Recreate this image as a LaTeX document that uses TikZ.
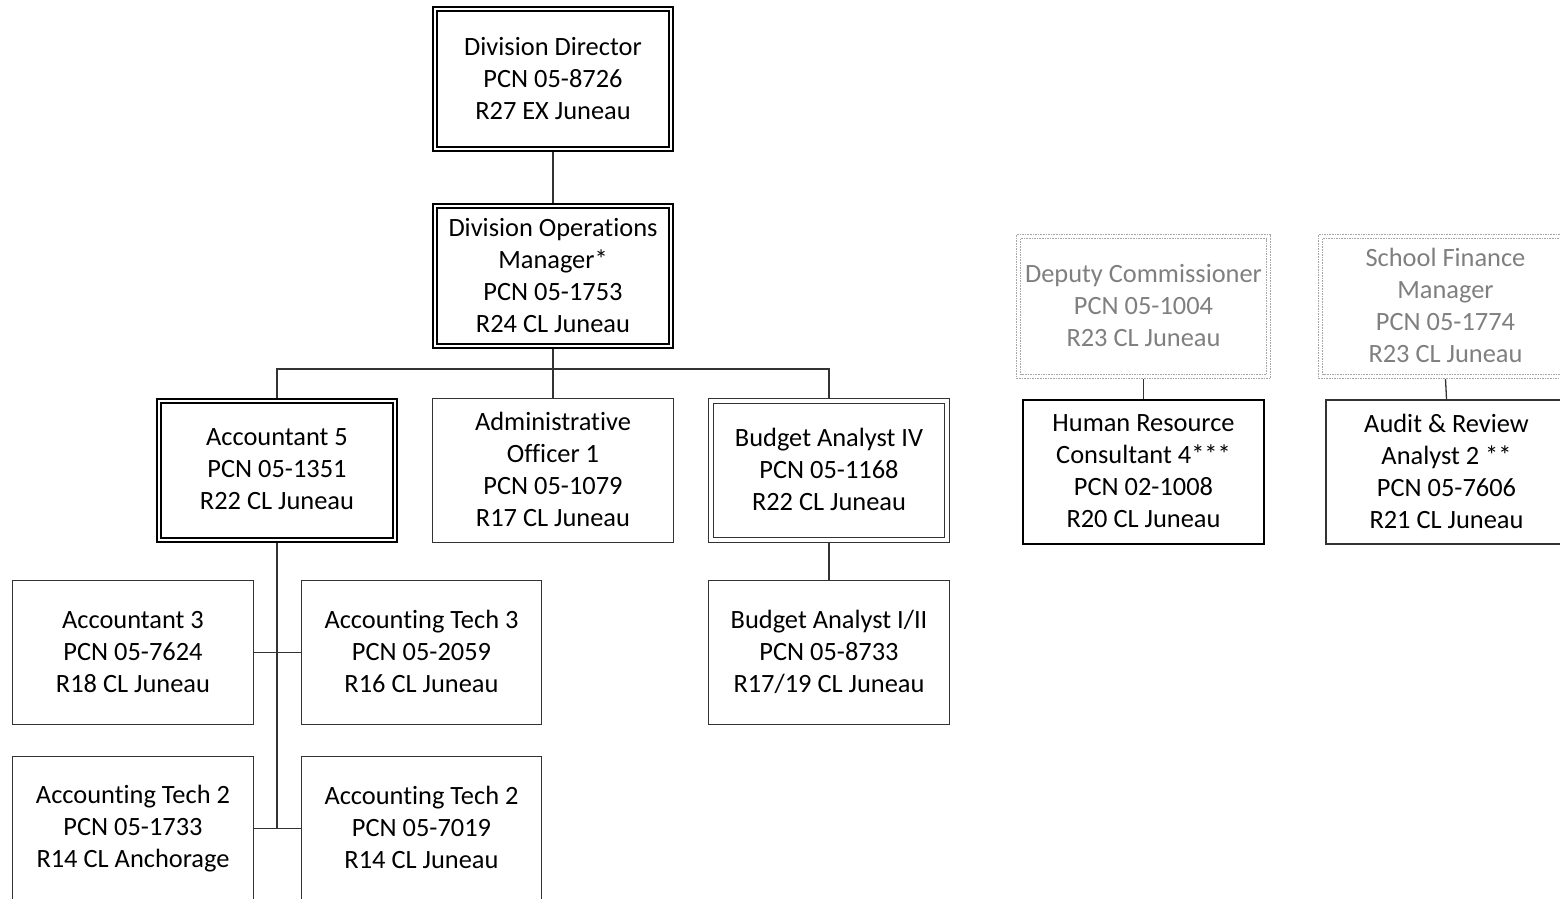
\documentclass[tikz,border=0pt]{standalone}
\usepackage{fontspec}
\setmainfont[Ligatures={NoCommon}]{Carlito}
\definecolor{linec}{HTML}{333333}
\definecolor{dimtext}{HTML}{7F7F7F}
\definecolor{dimline}{HTML}{A6A6A6}
\newcommand{\lnstrut}{\rule[-2pt]{0pt}{32pt}}
\tikzset{
  txt/.style={font=\fontsize{26.4}{32}\selectfont, align=center, inner sep=0pt, text=black,
    execute at begin node=\lnstrut, execute at end node=\lnstrut},
  plainbox/.style={txt, draw=linec, line width=1.3pt},
  heavybox/.style={txt, draw=black, line width=2.4pt},
  midbox/.style={txt, draw=linec, line width=1.8pt},
  dblthick/.style={txt, draw=black, line width=2.2pt, double=white, double distance=2pt, outer sep=3.2pt},
  dblthin/.style={txt, draw=linec, line width=1.3pt, double=white, double distance=3.5pt, outer sep=3.05pt},
  dimbox/.style={txt, text=dimtext, draw=dimline, line width=1pt, dash pattern=on 1.6pt off 1pt},
  dimin/.style={draw=dimline, line width=1pt, dash pattern=on 1.6pt off 1pt},
  sz/.style 2 args={minimum width=#1, minimum height=#2},
  conn/.style={draw=linec, line width=1.3pt}
}
\begin{document}
\begin{tikzpicture}[x=1pt, y=-1pt]
\useasboundingbox (0,0) rectangle (1560,898);
\clip (0,0) rectangle (1560,898);
\coordinate (busL) at (277,369);
\coordinate (busR) at (829,369);
\coordinate (trunk) at (277,828.5);
% nodes
\node[dblthick, sz={235.6pt}{139.6pt}] (dd) at (553,79) {Division Director\\ PCN 05-8726\\ R27 EX Juneau};
\node[dblthick, sz={235.6pt}{139.6pt}] (om) at (553,276) {Division Operations\\ Manager*\\ PCN 05-1753\\ R24 CL Juneau};
\node[dblthick, sz={235.6pt}{138.6pt}] (a5) at (277,470.5) {Accountant 5\\ PCN 05-1351\\ R22 CL Juneau};
\node[plainbox, sz={240.7pt}{143.7pt}] (ao) at (553,470.5) {Administrative\\ Officer 1\\ PCN 05-1079\\ R17 CL Juneau};
\node[dblthin, sz={235.9pt}{138.9pt}] (ba4) at (829,470.5) {Budget Analyst IV\\ PCN 05-1168\\ R22 CL Juneau};
\node[plainbox, sz={240.7pt}{143.7pt}] (ba12) at (829,652.5) {Budget Analyst I/II\\ PCN 05-8733\\ R17/19 CL Juneau};
\node[plainbox, sz={240.7pt}{143.7pt}] (a3) at (133,652.5) {Accountant 3\\ PCN 05-7624\\ R18 CL Juneau};
\node[plainbox, sz={239.7pt}{143.7pt}] (at3) at (421.5,652.5) {Accounting Tech 3\\ PCN 05-2059\\ R16 CL Juneau};
\node[plainbox, sz={240.7pt}{143.7pt}] (at2a) at (133,828.5) {Accounting Tech 2\\ PCN 05-1733\\ R14 CL Anchorage};
\node[plainbox, sz={239.7pt}{143.7pt}] (at2b) at (421.5,828.5) {Accounting Tech 2\\ PCN 05-7019\\ R14 CL Juneau};
\node[dimbox, sz={254pt}{144pt}] (dc) at (1143.5,306.5) {Deputy Commissioner\\ PCN 05-1004\\ R23 CL Juneau};
\draw[dimin] ([shift={(4.5,4.5)}]dc.north west) rectangle ([shift={(-4.5,-4.5)}]dc.south east);
\node[heavybox, sz={240.6pt}{143.6pt}] (hr) at (1143.5,472) {Human Resource\\ Consultant 4***\\ PCN 02-1008\\ R20 CL Juneau};
\node[dimbox, sz={254pt}{144pt}] (sfm) at (1445.5,306.5) {School Finance\\ Manager\\ PCN 05-1774\\ R23 CL Juneau};
\draw[dimin] ([shift={(4.5,4.5)}]sfm.north west) rectangle ([shift={(-4.5,-4.5)}]sfm.south east);
\node[midbox, sz={241.2pt}{144.2pt}] (ar) at (1446.5,472) {Audit \& Review\\ Analyst 2 **\\ PCN 05-7606\\ R21 CL Juneau};
% connectors
\draw[conn] (dd.south) -- (om.north);
\draw[conn] (om.south) -- (ao.north);
\draw[conn] (a5.north) -- (busL) -- (busR) -- (ba4.north);
\draw[conn] (a5.south) -- (trunk);
\draw[conn] (a3.east) -- (at3.west);
\draw[conn] (at2a.east) -- (at2b.west);
\draw[conn] (ba4.south) -- (ba12.north);
\draw[conn] (dc.south) -- (hr.north);
\draw[conn] (sfm.south) -- (ar.north);
\end{tikzpicture}
\end{document}
